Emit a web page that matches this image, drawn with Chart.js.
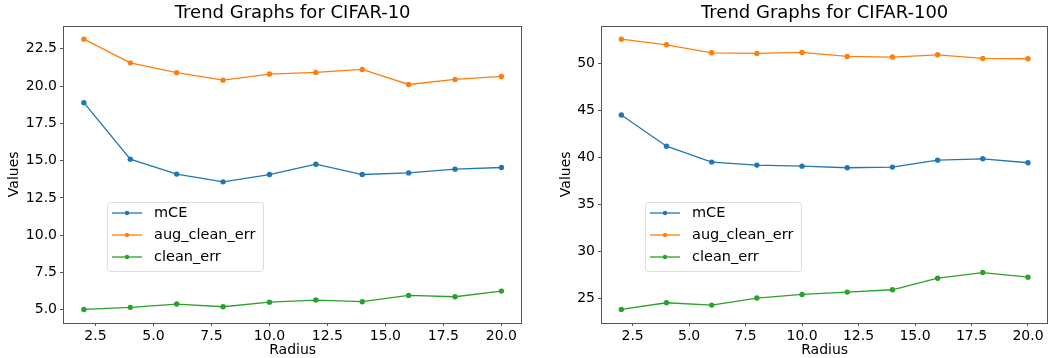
<!DOCTYPE html>
<html>
<head>
<meta charset="utf-8">
<script src="https://cdn.jsdelivr.net/npm/chart.js@4"></script>
<style>
  body { margin: 0; background: #fff; width: 1051px; height: 358px; overflow: hidden; }
  .box { position: absolute; top: 0; height: 358px; }
</style>
</head>
<body>
<div class="box" style="left:0;width:525px"><canvas id="c10"></canvas></div>
<div class="box" style="left:526px;width:525px"><canvas id="c100"></canvas></div>
<script>
const radius = [2, 4, 6, 8, 10, 12, 14, 16, 18, 20];
const seriesNames = ['mCE', 'aug_clean_err', 'clean_err'];
const seriesColors = ['#1f77b4', '#ff7f0e', '#2ca02c'];

// CIFAR-10
const c10_mCE = [18.89, 15.10, 14.10, 13.58, 14.07, 14.76, 14.07, 14.18, 14.43, 14.54];
const c10_aug = [23.15, 21.56, 20.90, 20.40, 20.81, 20.92, 21.12, 20.11, 20.45, 20.65];
const c10_clean = [5.02, 5.16, 5.38, 5.20, 5.51, 5.65, 5.54, 5.96, 5.87, 6.25];

// CIFAR-100
const c100_mCE = [44.49, 41.17, 39.48, 39.16, 39.05, 38.88, 38.95, 39.69, 39.83, 39.41];
const c100_aug = [52.54, 51.94, 51.09, 51.02, 51.13, 50.71, 50.64, 50.88, 50.49, 50.46];
const c100_clean = [23.83, 24.54, 24.29, 25.04, 25.42, 25.67, 25.92, 27.15, 27.75, 27.26];

const FONT = 'DejaVu Sans';

// cadre complet + légende dans la zone du graphique
const framePlugin = {
    id: 'frame',
    afterDraw(chart) {
        const { ctx, chartArea: a } = chart;
        ctx.save();
        ctx.strokeStyle = '#555';
        ctx.lineWidth = 1;
        ctx.strokeRect(Math.round(a.left) + 0.5, Math.round(a.top) + 0.5, Math.round(a.right - a.left) - 1, Math.round(a.bottom - a.top));

        // légende
        const lx = a.left + 44, ly = 202, lw = 156, lh = 69;
        ctx.fillStyle = 'rgba(255,255,255,0.8)';
        ctx.strokeStyle = '#dddddd';
        ctx.beginPath();
        ctx.roundRect(lx + 0.5, ly + 0.5, lw, lh, 3);
        ctx.fill();
        ctx.stroke();
        ctx.font = '14.5px "' + FONT + '"';
        ctx.textBaseline = 'middle';
        chart.data.datasets.forEach((ds, i) => {
            const y = ly + 11 + i * 22;
            ctx.strokeStyle = ds.borderColor;
            ctx.lineWidth = 1.3;
            ctx.beginPath();
            ctx.moveTo(lx + 5, y);
            ctx.lineTo(lx + 35, y);
            ctx.stroke();
            ctx.fillStyle = ds.borderColor;
            ctx.beginPath();
            ctx.arc(lx + 20, y, 2.2, 0, Math.PI * 2);
            ctx.fill();
            ctx.fillStyle = '#000';
            ctx.fillText(ds.label, lx + 47, y);
        });
        ctx.restore();
    }
};

function makeChart(id, title, data, yMin, yMax, yStep, yDec, yWidth, padLeft) {
    const datasets = data.map((vals, i) => ({
        label: seriesNames[i],
        data: vals,
        borderColor: seriesColors[i],
        backgroundColor: seriesColors[i],
        borderWidth: 1.3,
        pointRadius: 2.7,
        pointHoverRadius: 2.7,
        pointBorderWidth: 0,
        tension: 0
    }));
    return new Chart(document.getElementById(id), {
        type: 'line',
        data: { labels: radius, datasets },
        plugins: [framePlugin],
        options: {
            responsive: true,
            maintainAspectRatio: false,
            animation: false,
            layout: { padding: { left: padLeft, right: 0, top: 0, bottom: 0 } },
            plugins: {
                legend: { display: false },
                tooltip: { enabled: false },
                title: {
                    display: true, text: title, fullSize: false, color: '#000',
                    font: { family: FONT, size: 18, weight: 'normal', lineHeight: 1.2 },
                    padding: { top: 3, bottom: 1 }
                }
            },
            scales: {
                x: {
                    type: 'linear', min: 1.1, max: 20.9,
                    afterFit: s => { s.height = 35; },
                    border: { display: false },
                    grid: { drawOnChartArea: false, drawTicks: true, tickLength: 3, tickColor: '#555' },
                    ticks: { stepSize: 2.5, includeBounds: false, color: '#000', padding: 2,
                        maxRotation: 0, autoSkip: false,
                        font: { family: FONT, size: 14 }, callback: v => v.toFixed(1) },
                    title: { display: true, text: 'Radius', color: '#000',
                        font: { family: FONT, size: 14 }, padding: { top: 0, bottom: -1 } }
                },
                y: {
                    min: yMin, max: yMax,
                    afterFit: s => { s.width = yWidth; },
                    border: { display: false },
                    grid: { drawOnChartArea: false, drawTicks: true, tickLength: 3, tickColor: '#555' },
                    ticks: { stepSize: yStep, includeBounds: false, color: '#000', padding: 3,
                        autoSkip: false,
                        font: { family: FONT, size: 14 }, callback: v => v.toFixed(yDec) },
                    title: { display: true, text: 'Values', color: '#000',
                        font: { family: FONT, size: 14 }, padding: { top: 6, bottom: 0 } }
                }
            }
        }
    });
}

makeChart('c10', 'Trend Graphs for CIFAR-10', [c10_mCE, c10_aug, c10_clean], 4.11, 24.06, 2.5, 1, 63, 0);
makeChart('c100', 'Trend Graphs for CIFAR-100', [c100_mCE, c100_aug, c100_clean], 22.39, 53.98, 5, 0, 49, 26);
</script>
</body>
</html>
